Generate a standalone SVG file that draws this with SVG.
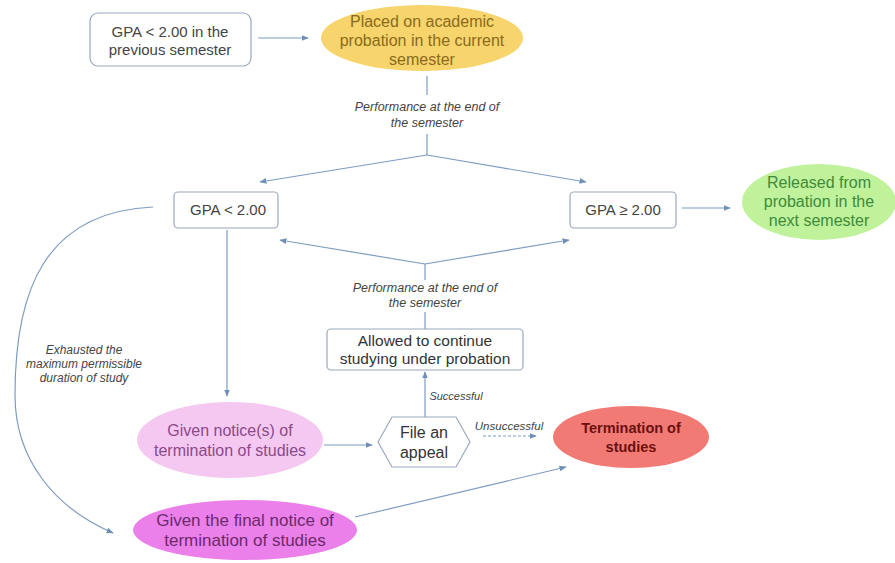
<svg xmlns="http://www.w3.org/2000/svg" width="895" height="563" viewBox="0 0 895 563">
<defs>
<marker id="ah" viewBox="0 0 10 10" refX="9" refY="5" markerWidth="6" markerHeight="6" orient="auto-start-reverse">
<path d="M0,1 L10,5 L0,9 z" fill="#6d8fb8"/>
</marker>
</defs>
<style>
text{font-family:"Liberation Sans",Arial,sans-serif;text-anchor:middle}
.t{font-size:15px;fill:#444}
.e{font-size:16px}
.lbl{font-size:12px;font-style:italic;fill:#444}
.box{fill:#fff;stroke:#9aa8bd;stroke-width:1.2}
.c{fill:none;stroke:#7d9cc2;stroke-width:1.2}
.a{marker-end:url(#ah)}
</style>
<rect width="895" height="563" fill="#fff"/>
<g id="connectors">
<line class="c a" x1="258" y1="38" x2="308" y2="38"/>
<line class="c" x1="427" y1="76" x2="427" y2="95"/>
<line class="c" x1="427" y1="134" x2="427" y2="155"/>
<line class="c a" x1="427" y1="155" x2="260" y2="182"/>
<line class="c a" x1="427" y1="155" x2="586" y2="182"/>
<line class="c a" x1="682" y1="208" x2="730" y2="208"/>
<line class="c a" x1="425" y1="264" x2="280" y2="240"/>
<line class="c a" x1="425" y1="264" x2="569" y2="240"/>
<line class="c" x1="425" y1="264" x2="425" y2="280"/>
<line class="c" x1="425" y1="312" x2="425" y2="329"/>
<line class="c a" x1="227" y1="230" x2="227" y2="396"/>
<path class="c a" d="M153,207 C45,212 15,290 15,395 C15,460 55,508 113,533"/>
<line class="c a" x1="324" y1="445" x2="372" y2="445"/>
<line class="c a" x1="425" y1="417" x2="425" y2="372"/>
<line class="c a" x1="483" y1="436" x2="536" y2="436" stroke-dasharray="3,2"/>
<line class="c a" x1="355" y1="517" x2="566" y2="467"/>
<text class="lbl" x="427" y="111" style="font-size:12.5px">Performance at the end of</text>
<text class="lbl" x="427" y="127" style="font-size:12.5px">the semester</text>
<text class="lbl" x="425" y="292" style="font-size:12.5px">Performance at the end of</text>
<text class="lbl" x="425" y="307" style="font-size:12.5px">the semester</text>
<text class="lbl" x="84" y="354">Exhausted the</text>
<text class="lbl" x="84" y="368">maximum permissible</text>
<text class="lbl" x="84" y="382">duration of study</text>
<text class="lbl" x="456" y="400" style="font-size:11px">Successful</text>
<text class="lbl" x="509" y="430" style="font-size:11.5px">Unsuccessful</text>
</g>
<g id="n-prev">
<rect class="box" x="90" y="13" width="161" height="53" rx="8"/>
<text class="t" x="170" y="37">GPA &lt; 2.00 in the</text>
<text class="t" x="170" y="55">previous semester</text>
</g>
<g id="n-probation">
<ellipse cx="422" cy="38" rx="101" ry="33" fill="#f7d46c"/>
<text class="t e" x="422" y="27" style="fill:#8a6b1c">Placed on academic</text>
<text class="t e" x="422" y="46" style="fill:#8a6b1c">probation in the current</text>
<text class="t e" x="422" y="65" style="fill:#8a6b1c">semester</text>
</g>
<g id="n-gpa-low">
<rect class="box" x="174" y="192" width="104" height="36" rx="4"/>
<text class="t" x="228" y="215">GPA &lt; 2.00</text>
</g>
<g id="n-gpa-high">
<rect class="box" x="570" y="192" width="106" height="36" rx="4"/>
<text class="t" x="623" y="215">GPA ≥ 2.00</text>
</g>
<g id="n-released">
<ellipse cx="819" cy="202" rx="77" ry="38" fill="#bff29a"/>
<text class="t e" x="819" y="188" style="fill:#3f8a3a">Released from</text>
<text class="t e" x="819" y="207" style="fill:#3f8a3a">probation in the</text>
<text class="t e" x="819" y="226" style="fill:#3f8a3a">next semester</text>
</g>
<g id="n-allowed">
<rect class="box" x="327" y="329" width="196" height="41" rx="4"/>
<text class="t" x="425" y="346" style="fill:#333;font-size:15.5px">Allowed to continue</text>
<text class="t" x="425" y="364" style="fill:#333;font-size:15.5px">studying under probation</text>
</g>
<g id="n-notice">
<ellipse cx="230" cy="440" rx="93" ry="38" fill="#f5c8f2"/>
<text class="t e" x="230" y="436" style="fill:#8a4a8a">Given notice(s) of</text>
<text class="t e" x="230" y="456" style="fill:#8a4a8a">termination of studies</text>
</g>
<g id="n-appeal">
<polygon class="box" points="378,442 392,417 456,417 470,442 456,467 392,467"/>
<text class="t" x="424" y="438" style="fill:#333;font-size:16px">File an</text>
<text class="t" x="424" y="458" style="fill:#333;font-size:16px">appeal</text>
</g>
<g id="n-termination">
<ellipse cx="631" cy="437" rx="78" ry="31" fill="#f27a74"/>
<text class="t" x="631" y="433" style="fill:#6a1010;font-weight:bold;font-size:14.5px">Termination of</text>
<text class="t" x="631" y="452" style="fill:#6a1010;font-weight:bold;font-size:14.5px">studies</text>
</g>
<g id="n-final">
<ellipse cx="245" cy="530" rx="112" ry="30" fill="#ec80ea"/>
<text class="t" x="245" y="526" style="fill:#6a2a6a;font-size:17px">Given the final notice of</text>
<text class="t" x="245" y="546" style="fill:#6a2a6a;font-size:17px">termination of studies</text>
</g>
</svg>
